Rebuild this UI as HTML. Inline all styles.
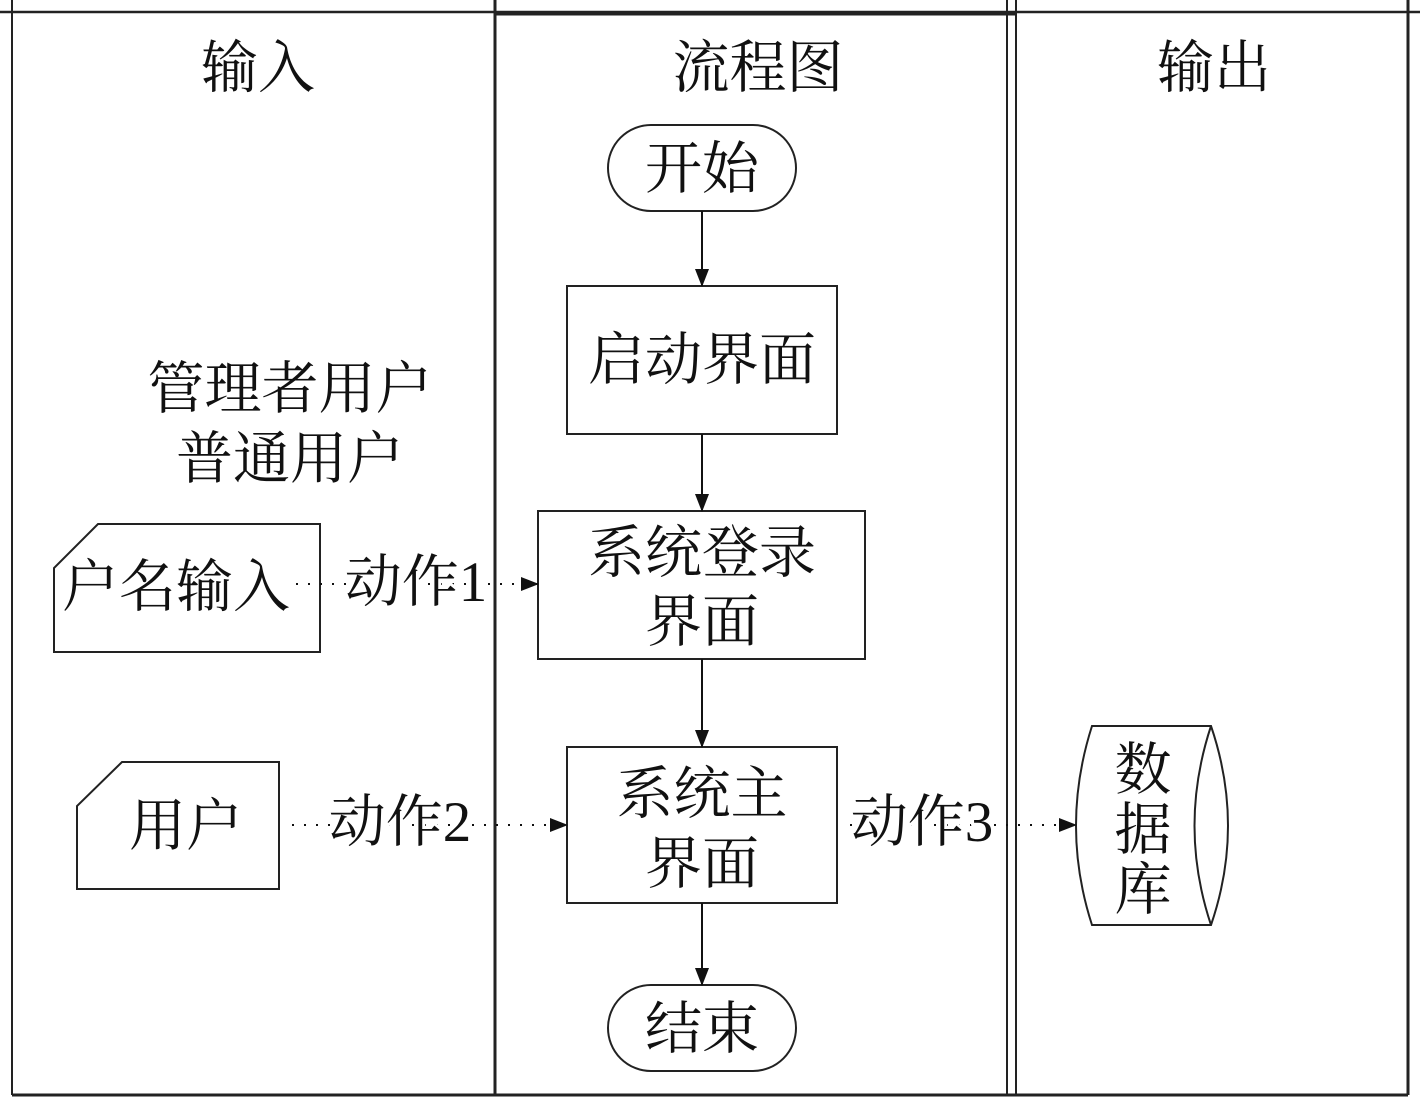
<!DOCTYPE html>
<html><head><meta charset="utf-8"><style>
body{margin:0;background:#fff}
svg text{font-family:"Liberation Serif","Noto Serif CJK SC",serif;fill:#111}
</style></head><body>
<svg width="1420" height="1099" viewBox="0 0 1420 1099" xmlns="http://www.w3.org/2000/svg">
<defs><marker id="b" markerWidth="18" markerHeight="14" refX="17" refY="7" orient="auto" markerUnits="userSpaceOnUse"><path d="M0,0 L18,7 L0,14 z" fill="#111"/></marker></defs>
<g stroke="#222" fill="none">
<line x1="0" y1="12" x2="1420" y2="12" stroke-width="2.5"/>
<line x1="495" y1="14" x2="1016" y2="14" stroke-width="3"/>
<line x1="12" y1="0" x2="12" y2="1095" stroke-width="2"/>
<line x1="495" y1="0" x2="495" y2="1095" stroke-width="3"/>
<line x1="1007" y1="0" x2="1007" y2="1095" stroke-width="2"/>
<line x1="1016" y1="0" x2="1016" y2="1095" stroke-width="2"/>
<line x1="1408" y1="0" x2="1408" y2="1095" stroke-width="3"/>
<line x1="12" y1="1095" x2="1408" y2="1095" stroke-width="3"/>
</g>
<g stroke="#222" stroke-width="2" fill="#fff">
<rect x="608" y="125" width="188" height="86" rx="43"/>
<rect x="567" y="286" width="270" height="148"/>
<rect x="538" y="511" width="327" height="148"/>
<rect x="567" y="747" width="270" height="156"/>
<rect x="608" y="985" width="188" height="86" rx="43"/>
<path d="M98,524 L320,524 L320,652 L54,652 L54,568 Z"/>
<path d="M122,762 L279,762 L279,889 L77,889 L77,806 Z"/>
<path d="M1092,726 L1211,726 Q1245,826 1211,925 L1092,925 Q1060,826 1092,726 Z"/>
<path d="M1211,726 Q1178,826 1211,925" fill="none"/>
</g>
<g stroke="#111" stroke-width="2">
<line x1="702" y1="211" x2="702" y2="286" marker-end="url(#b)"/>
<line x1="702" y1="434" x2="702" y2="511" marker-end="url(#b)"/>
<line x1="702" y1="659" x2="702" y2="747" marker-end="url(#b)"/>
<line x1="702" y1="903" x2="702" y2="985" marker-end="url(#b)"/>
</g>
<g stroke="#111" stroke-width="2" stroke-dasharray="2,10">
<line x1="296" y1="584" x2="538" y2="584" marker-end="url(#b)"/>
<line x1="292" y1="825" x2="567" y2="825" marker-end="url(#b)"/>
<line x1="850" y1="825" x2="1076" y2="825" marker-end="url(#b)"/>
</g>
<g font-size="57" text-anchor="middle">
<text x="258" y="87">输入</text>
<text x="758" y="87">流程图</text>
<text x="1214" y="87">输出</text>
<text x="702" y="188">开始</text>
<text x="702" y="379">启动界面</text>
<text x="702" y="572">系统登录</text>
<text x="702" y="641">界面</text>
<text x="702" y="813">系统主</text>
<text x="702" y="883">界面</text>
<text x="702" y="1048">结束</text>
<text x="290" y="408">管理者用户</text>
<text x="290" y="478">普通用户</text>
<text x="176" y="606">户名输入</text>
<text x="186" y="845">用户</text>
<text x="416" y="601" style="paint-order:stroke" stroke="#fff" stroke-width="6">动作1</text>
<text x="400" y="841" style="paint-order:stroke" stroke="#fff" stroke-width="6">动作2</text>
<text x="922" y="841" style="paint-order:stroke" stroke="#fff" stroke-width="6">动作3</text>
<text x="1143" y="789">数</text>
<text x="1143" y="849">据</text>
<text x="1143" y="909">库</text>
</g>
</svg>
</body></html>
